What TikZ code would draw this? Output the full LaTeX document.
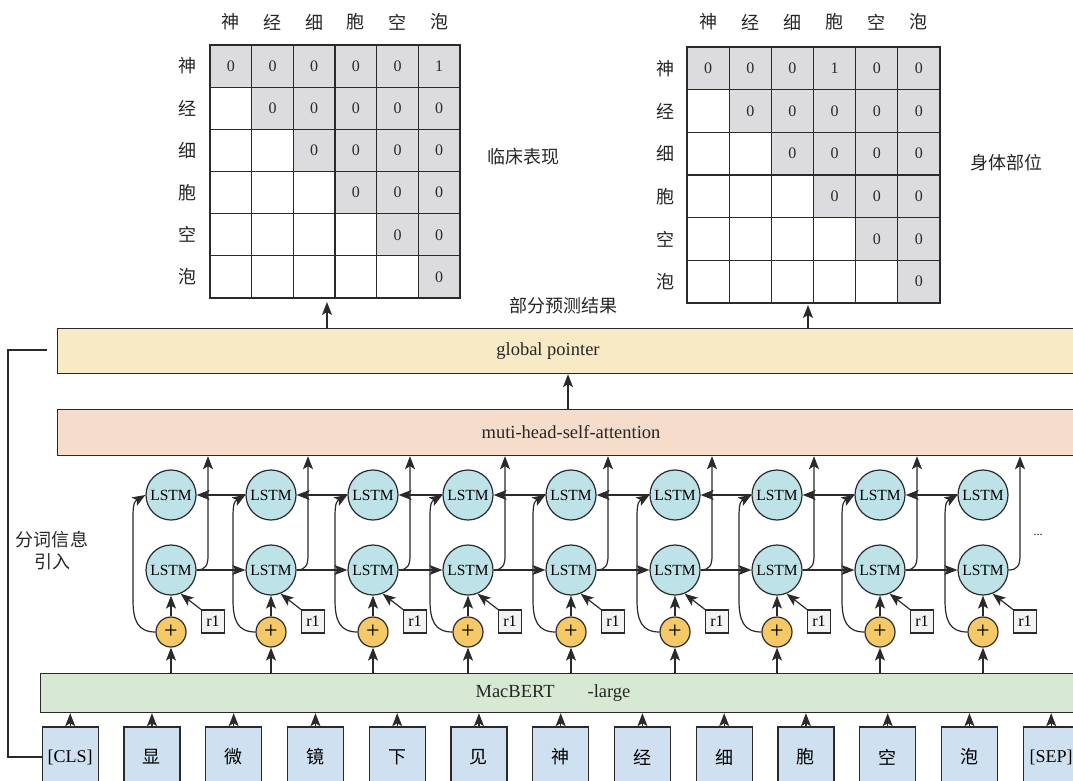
\documentclass[tikz,border=0pt]{standalone}
\usepackage{fontspec}
\setmainfont{Liberation Serif}
\newfontfamily\cjk{Noto Sans CJK SC}
\usetikzlibrary{arrows.meta,calc}
\definecolor{linec}{HTML}{2A2A2A}
\definecolor{gpc}{HTML}{F9EAC6}
\definecolor{attc}{HTML}{F6DCCB}
\definecolor{lstmc}{HTML}{BDE3E9}
\definecolor{plusc}{HTML}{F5C868}
\definecolor{mbc}{HTML}{D7E9D3}
\definecolor{tokc}{HTML}{CFE1F0}
\definecolor{grayc}{HTML}{DCDCDE}
\definecolor{rc}{HTML}{F3F3F3}
\newcommand\mymat[5]{%
  \foreach \r in {0,...,5}{\foreach \c in {0,...,5}{%
    \pgfmathsetmacro\xa{#1+\c*#3}\pgfmathsetmacro\ya{#2+\r*#4}%
    \ifnum\c<\r
      \draw[cell,fill=white] (\xa,\ya) rectangle ++(#3,#4);
    \else
      \ifnum\r=0 \ifnum\c=#5 \def\cellval{1}\else\def\cellval{0}\fi\else\def\cellval{0}\fi
      \draw[cell,fill=grayc] (\xa,\ya) rectangle ++(#3,#4);
      \node[numf] at (\xa+#3/2,\ya+#4/2) {\cellval};
    \fi}}%
}
\begin{document}
\begin{tikzpicture}[x=1pt,y=-1pt,
  arr/.style={-{Stealth[length=13pt,width=10pt,inset=3pt]},line width=1.2pt,draw=linec},
  conn/.style={line width=1.2pt,draw=linec},
  cell/.style={draw=linec,line width=1.2pt},
  numf/.style={font=\fontsize{16}{16}\selectfont,text=linec},
  layer/.style={draw=linec,line width=1.2pt,rectangle,anchor=north west,inner sep=0pt,minimum width=1060pt},
  lstm/.style={circle,draw=linec,line width=1.2pt,fill=lstmc,minimum size=50pt,inner sep=0pt,font=\fontsize{15.5}{15.5}\selectfont},
  plus/.style={circle,draw=linec,line width=1.2pt,fill=plusc,minimum size=30pt,inner sep=0pt,font=\fontsize{24}{24}\selectfont},
  rbox/.style={draw=linec,line width=1.2pt,fill=rc,minimum size=23pt,inner sep=0pt,font=\fontsize{16}{16}\selectfont},
  tok/.style={draw=linec,line width=1.2pt,fill=tokc,minimum width=56pt,minimum height=60pt,inner sep=0pt,font=\cjk\fontsize{18}{18}\selectfont},
  lbl/.style={font=\fontsize{18.5}{18.5}\selectfont,text=black!85},
  cj/.style={font=\cjk\fontsize{18}{22}\selectfont,text=black!85,align=center},
]
\useasboundingbox (0,0) rectangle (1073,781);
\begin{scope}
\clip (0,0) rectangle (1073,781);
% matrices
\mymat{210}{45}{41.67}{42.17}{5}
\mymat{687}{47}{42.17}{42.67}{3}
\foreach \ch [count=\i from 0] in {神,经,细,胞,空,泡}{
  \node[cj] at (210+\i*41.67+20.8,22) {\ch};
  \node[cj] at (187,45+\i*42.17+21) {\ch};
  \node[cj] at (687+\i*42.17+21,22) {\ch};
  \node[cj] at (665,47+\i*42.67+21.3) {\ch};
}
\node[cj] (lab1) at (523,157) {临床表现};
\node[cj] (lab2) at (1006,163) {身体部位};
\node[cj] (lab3) at (563,306) {部分预测结果};
\coordinate (mL) at (327,302);
\coordinate (mR) at (808,305);

% layers
\node[layer,fill=gpc,minimum height=45pt] (gp) at (57,328) {};
\node[lbl] (gpt) at (548,351) {global pointer};
\node[layer,fill=attc,minimum height=46pt] (att) at (57,409) {};
\node[lbl] (attt) at (571,432) {muti-head-self-attention};
\node[layer,fill=mbc,minimum height=39pt] (mb) at (40,673) {};
\node[lbl] (mbt) at (553,693) {MacBERT\hspace{33pt}-large};

\draw[arr] (mL |- gp.north) -- (mL);
\draw[arr] (mR |- gp.north) -- (mR);
\coordinate (ag) at (568,390);
\draw[arr] (ag |- att.north) -- (ag |- gp.south);

% LSTM columns
\foreach \x [count=\i] in {171,271,373,468,571,675,777,880,983}{
  \node[lstm] (lt\i) at (\x,495) {LSTM};
  \node[lstm] (lb\i) at (\x,570) {LSTM};
  \node[plus] (p\i) at (\x,632) {+};
  \node[rbox] (r\i) at (\x+42,621.5) {r1};
}
\foreach \i in {1,...,9}{
  \draw[arr] (p\i.north) -- (lb\i.south);
  \draw[arr] (r\i.north west) -- (lb\i.-68);
  \draw[arr] (p\i.south |- mb.north) -- (p\i.south);
  \draw[arr] (p\i.west) .. controls +(-18,0) and +(0,20) .. ($(lb\i.center)+(-38,30)$)
     -- ($(lt\i.center)+(-38,22)$) .. controls +(0,-16) and +(-10,6) .. (lt\i.west);
  \coordinate (o\i) at ($(lb\i.center)+(37,-14)$);
  \draw[arr] (lb\i.east) .. controls +(9,0) and +(0,9) .. (o\i) -- (o\i |- att.south);
}
\foreach \i [evaluate=\i as \j using int(\i+1)] in {1,...,8}{
  \draw[arr] (lb\i.east) -- (lb\j.west);
  \draw[arr] (lt\j.west) -- (lt\i.east);
}
\node[font=\fontsize{12}{12}\selectfont] (dots) at (1038,535) {...};

% tokens
\foreach \t [count=\i from 0] in {{\rmfamily[CLS]},显,微,镜,下,见,神,经,细,胞,空,泡,{\rmfamily[SEP]}}{
  \node[tok] (t\i) at (70.2+\i*81.75,757) {\t};
  \draw[arr] (t\i.north) -- (t\i.north |- mb.south);
}
\node[cj] (fc) at (52,551) {分词信息\\引入};
\coordinate (lc) at (8,350);
\coordinate (gpin) at (47,350);
\draw[conn] (t0.west) -| (lc) -- (gpin);
\end{scope}
\end{tikzpicture}
\end{document}
